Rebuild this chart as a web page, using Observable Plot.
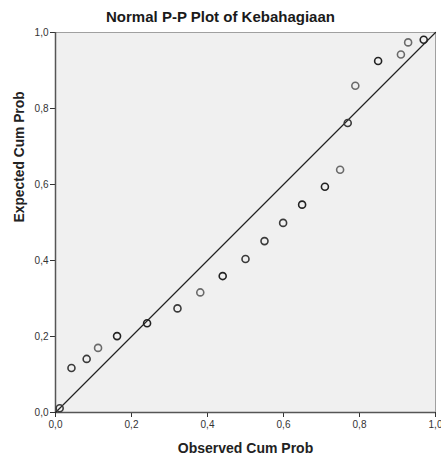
<!DOCTYPE html>
<html>
<head>
<meta charset="utf-8">
<script src="https://cdn.jsdelivr.net/npm/d3@7"></script>
<script src="https://cdn.jsdelivr.net/npm/@observablehq/plot@0.6"></script>
<style>
  html, body { margin: 0; padding: 0; background: #fff; }
  #chart svg { display: block; }
</style>
</head>
<body>
<div id="chart"></div>
<script>
const titleText = "Normal P-P Plot of Kebahagiaan";
const xLabel = "Observed Cum Prob";
const yLabel = "Expected Cum Prob";
const tickValues = [0, 0.2, 0.4, 0.6, 0.8, 1.0];

const observed = [0.011, 0.042, 0.082, 0.112, 0.162, 0.241, 0.321, 0.381, 0.440, 0.500, 0.550, 0.599, 0.649, 0.709, 0.749, 0.769, 0.789, 0.849, 0.909, 0.928, 0.969];
const expected = [0.011, 0.117, 0.141, 0.170, 0.201, 0.235, 0.274, 0.316, 0.359, 0.404, 0.451, 0.499, 0.547, 0.594, 0.639, 0.762, 0.860, 0.925, 0.942, 0.974, 0.981];
const freq =     [2, 2, 2, 1, 3, 3, 2, 1, 3, 2, 2, 2, 3, 3, 1, 2, 1, 3, 1, 1, 3];

const points = observed.map((o, i) => ({o, e: expected[i], n: freq[i]}));
const fmt = d => d.toFixed(1).replace(".", ",");

const chart = Plot.plot({
  width: 441,
  height: 457,
  marginTop: 32,
  marginBottom: 45,
  marginLeft: 55,
  marginRight: 6,
  style: {fontFamily: "Liberation Sans, Arial, sans-serif", background: "#fff", color: "#333"},
  x: {domain: [0, 1]},
  y: {domain: [0, 1]},
  marks: [
    Plot.frame({fill: "#f0f0f0", stroke: "#a0a0a0"}),
    Plot.axisX({ticks: tickValues, tickFormat: fmt, tickSize: 5, fontSize: 10, label: null, stroke: "#333", tickPadding: 3}),
    Plot.axisY({ticks: tickValues, tickFormat: fmt, tickSize: 5, fontSize: 10, label: null, stroke: "#333", tickPadding: 2}),
    Plot.ruleX([0], {stroke: "#555", strokeWidth: 1.5}),
    Plot.ruleY([0], {stroke: "#555", strokeWidth: 1.5}),
    Plot.line([{o: 0, e: 0}, {o: 1, e: 1}], {x: "o", y: "e", stroke: "#222", strokeWidth: 1.2}),
    Plot.dot(points, {x: "o", y: "e", r: 3.5, strokeWidth: 1.6, fill: "none",
      stroke: d => d.n >= 3 ? "#222" : d.n === 2 ? "#3a3a3a" : "#6a6a6a"}),
    Plot.text([titleText], {frameAnchor: "top", dx: -25, dy: -21, fontSize: 15, fontWeight: "bold", fill: "#1a1a1a", text: d => d, textAnchor: "middle"}),
    Plot.text([xLabel], {frameAnchor: "bottom", dy: 40, fontSize: 14, fontWeight: "bold", fill: "#222", text: d => d}),
    Plot.text([yLabel], {frameAnchor: "left", dx: -36, rotate: -90, fontSize: 13.8, fontWeight: "bold", fill: "#222", text: d => d})
  ]
});
document.getElementById("chart").appendChild(chart);
</script>
</body>
</html>
